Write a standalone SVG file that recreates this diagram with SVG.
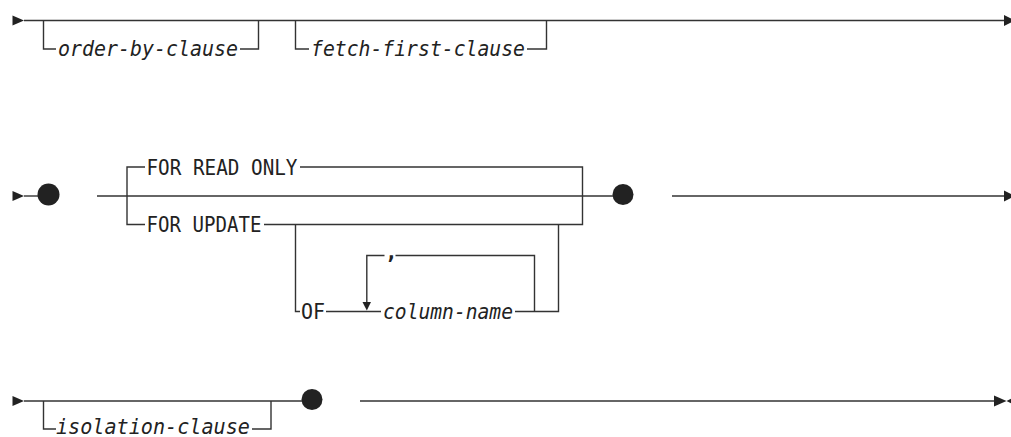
<svg xmlns="http://www.w3.org/2000/svg" width="1011" height="437" viewBox="0 0 1011 437">
<style>
.ln{stroke:#333;stroke-width:1.4;fill:none}
.ah{fill:#222}
.dot{fill:#222}
.kw{font-family:"DejaVu Sans Mono","Liberation Mono",monospace;font-size:21px;fill:#222}
.var{font-family:"DejaVu Sans Mono","Liberation Mono",monospace;font-size:21px;font-style:italic;fill:#222}
</style>
<rect width="1011" height="437" fill="#fff"/>
<g id="connectors">
<!-- row 1 -->
<polygon class="ah" points="12.5,15.5 12.5,25.5 24,20.5"/>
<path class="ln" d="M24,20.5 H1005"/>
<path class="ln" d="M43.5,20.5 V49 H56 M240,49 H258.5 V20.5"/>
<path class="ln" d="M295.5,20.5 V49 H309 M527,49 H546.5 V20.5"/>
<polygon class="ah" points="1004,15 1004,26 1015,20.5"/>
<!-- row 2 -->
<polygon class="ah" points="12.5,191 12.5,201 24,196"/>
<path class="ln" d="M24,196 H38"/>
<path class="ln" d="M97,196 H613"/>
<path class="ln" d="M127,196 V167 H145 M300,167 H582.5 V196"/>
<path class="ln" d="M127,196 V224.5 H145 M264,224.5 H582.5 V196"/>
<path class="ln" d="M295.5,224.5 V311.5 H300 M326,311.5 H381 M515,311.5 H558.5 V224.5"/>
<path class="ln" d="M534.5,311.5 V255.5 H395.5 M384.5,255.5 H366.8 V303"/>
<polygon class="ah" points="362.5,302 371,302 366.8,310.5"/>
<path class="ln" d="M672,196 H1005"/>
<polygon class="ah" points="1004,190.5 1004,201.5 1015,196"/>
<!-- row 3 -->
<polygon class="ah" points="12.5,396 12.5,406 24,401"/>
<path class="ln" d="M24,401 H302"/>
<path class="ln" d="M43.5,401 V429 H56 M252,429 H271 V401"/>
<path class="ln" d="M360,401 H995"/>
<polygon class="ah" points="994,395.5 994,406.5 1006.5,401"/>
<polygon class="ah" points="1006.5,401 1018,395.5 1018,406.5"/>
</g>
<g id="n-order-by-clause"><text class="var" x="58" y="56" textLength="180" lengthAdjust="spacingAndGlyphs">order-by-clause</text></g>
<g id="n-fetch-first-clause"><text class="var" x="311" y="56" textLength="214" lengthAdjust="spacingAndGlyphs">fetch-first-clause</text></g>
<g id="n-dot1"><circle class="dot" cx="48.5" cy="194.5" r="11"/></g>
<g id="n-for-read-only"><text class="kw" x="146.5" y="174.5" textLength="151" lengthAdjust="spacingAndGlyphs">FOR READ ONLY</text></g>
<g id="n-for-update"><text class="kw" x="146.5" y="232" textLength="115" lengthAdjust="spacingAndGlyphs">FOR UPDATE</text></g>
<g id="n-of"><text class="kw" x="301" y="319" textLength="24" lengthAdjust="spacingAndGlyphs">OF</text></g>
<g id="n-comma"><text class="kw" x="385" y="259" font-weight="bold">,</text></g>
<g id="n-column-name"><text class="var" x="383" y="318.5" textLength="130" lengthAdjust="spacingAndGlyphs">column-name</text></g>
<g id="n-dot2"><circle class="dot" cx="623" cy="194.5" r="10.5"/></g>
<g id="n-isolation-clause"><text class="var" x="56" y="433.5" textLength="194" lengthAdjust="spacingAndGlyphs">isolation-clause</text></g>
<g id="n-dot3"><circle class="dot" cx="312" cy="399.5" r="10.5"/></g>
</svg>
